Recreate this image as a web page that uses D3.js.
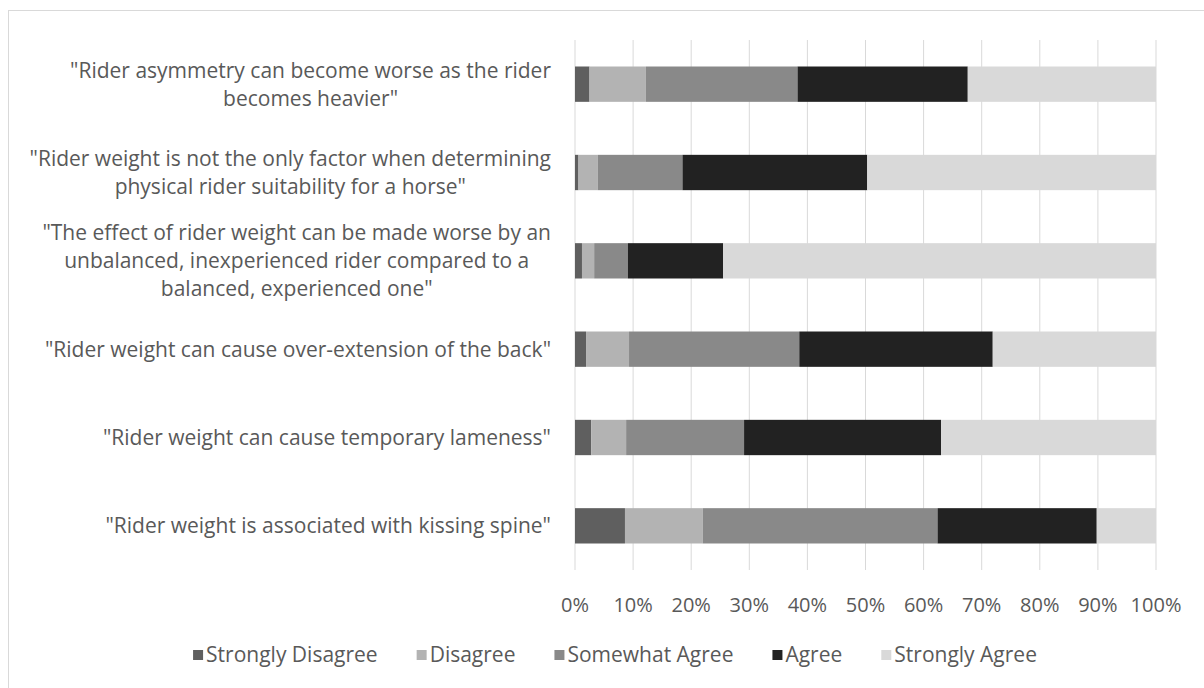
<html>
<head>
<script src="https://d3js.org/d3.v7.min.js"></script>
<style>
  body { margin: 0; background: #fff; }
  text { font-family: "Open Sans", sans-serif; fill: #595959; }
</style>
</head>
<body>
<svg width="1204" height="688"></svg>
<script>
// statements, top to bottom, already wrapped the way the chart shows them
var labels = [
  ['"Rider asymmetry can become worse as the rider', 'becomes heavier"'],
  ['"Rider weight is not the only factor when determining', 'physical rider suitability for a horse"'],
  ['"The effect of rider weight can be made worse by an', 'unbalanced, inexperienced rider compared to a', 'balanced, experienced one"'],
  ['"Rider weight can cause over-extension of the back"'],
  ['"Rider weight can cause temporary lameness"'],
  ['"Rider weight is associated with kissing spine"']
];
var series = ["Strongly Disagree", "Disagree", "Somewhat Agree", "Agree", "Strongly Agree"];
var colors = ["#5f5f5f", "#b3b3b3", "#898989", "#222222", "#d9d9d9"];

// percent of answers per statement, one array per answer
var stronglyDisagree = [2.5, 0.6, 1.2, 1.9, 2.8, 8.6];
var disagree         = [9.7, 3.3, 2.1, 7.4, 6.0, 13.4];
var somewhatAgree    = [26.1, 14.6, 5.8, 29.3, 20.3, 40.4];
var agree            = [29.3, 31.8, 16.4, 33.3, 33.9, 27.4];
var stronglyAgree    = [32.4, 49.7, 74.5, 28.1, 37.0, 10.2];
var ticks = [0, 10, 20, 30, 40, 50, 60, 70, 80, 90, 100];

var svg = d3.select("svg");

// chart frame
svg.append("rect")
  .attr("x", 8.5).attr("y", 10.5)
  .attr("width", 1210).attr("height", 700)
  .attr("fill", "none").attr("stroke", "#d9d9d9");

var x = d3.scaleLinear().domain([0, 100]).range([575, 1156]);
var y = d3.scaleBand().domain(d3.range(labels.length)).range([40, 570])
  .paddingInner(0.6).paddingOuter(0.3);

// gridlines
svg.append("g").selectAll("line")
  .data(ticks).enter().append("line")
  .attr("x1", function(d) { return x(d); })
  .attr("x2", function(d) { return x(d); })
  .attr("y1", 40).attr("y2", 570)
  .attr("stroke", "#d9d9d9").attr("stroke-width", 1);

// tick labels
svg.append("g").selectAll("text")
  .data(ticks).enter().append("text")
  .attr("x", function(d) { return x(d); })
  .attr("y", 605)
  .attr("dy", "0.35em")
  .attr("font-size", "20px")
  .style("text-anchor", "middle")
  .text(function(d) { return d + "%"; });

// stacked bars
var rows = labels.map(function(l, i) {
  return {
    "Strongly Disagree": stronglyDisagree[i],
    "Disagree": disagree[i],
    "Somewhat Agree": somewhatAgree[i],
    "Agree": agree[i],
    "Strongly Agree": stronglyAgree[i],
    idx: i
  };
});
var stack = d3.stack().keys(series)(rows);

svg.append("g").selectAll("g")
  .data(stack).enter().append("g")
  .attr("fill", function(d, i) { return colors[i]; })
  .selectAll("rect")
  .data(function(d) { return d; }).enter().append("rect")
  .attr("x", function(d) { return x(d[0]); })
  .attr("width", function(d) { return x(d[1]) - x(d[0]); })
  .attr("y", function(d) { return y(d.data.idx); })
  .attr("height", y.bandwidth());

// category labels: lines centred among themselves, block right-aligned
var lineH = 28;
labels.forEach(function(lines, i) {
  var g = svg.append("g");
  var cy = y(i) + y.bandwidth() / 2;
  var t = g.selectAll("text").data(lines).enter().append("text")
    .attr("font-size", "21px")
    .attr("y", function(d, j) { return cy + (j - (lines.length - 1) / 2) * lineH; })
    .attr("dy", "0.35em")
    .style("text-anchor", "middle")
    .text(function(d) { return d; });
  var w = d3.max(t.nodes(), function(n) { return n.getComputedTextLength(); });
  t.attr("x", 551 - w / 2);
});

// legend
var legend = svg.append("g");
var lx = 0;
series.forEach(function(s, i) {
  var item = legend.append("g").attr("transform", "translate(" + lx + ",0)");
  item.append("rect").attr("x", 0).attr("y", -5).attr("width", 10).attr("height", 10)
    .attr("fill", colors[i]);
  var t = item.append("text").attr("x", 13).attr("y", 0).attr("dy", "0.35em")
    .attr("font-size", "21px").text(s);
  lx += 13 + t.node().getComputedTextLength() + 39;
});
lx -= 39;
legend.attr("transform", "translate(" + (615 - lx / 2) + ",655)");
</script>
</body>
</html>
